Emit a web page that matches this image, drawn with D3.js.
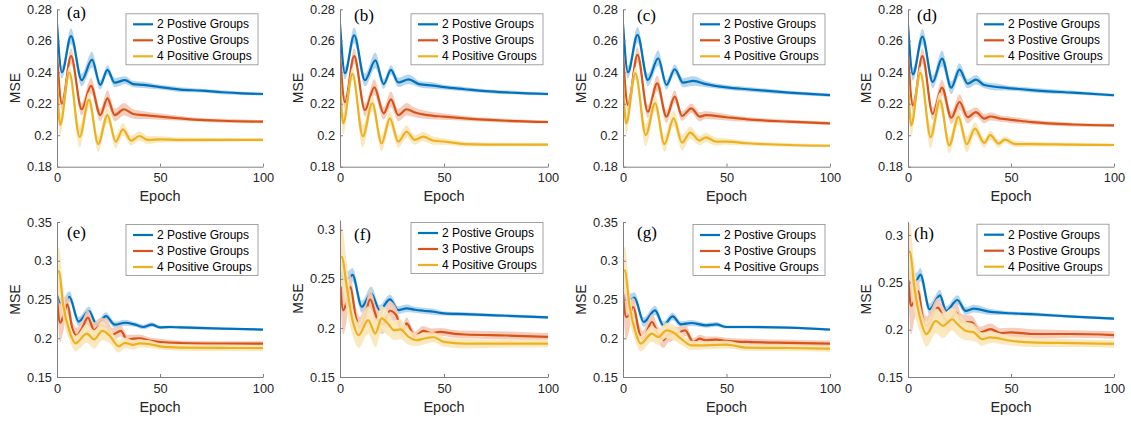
<!DOCTYPE html>
<html>
<head>
<meta charset="utf-8">
<script src="https://cdn.jsdelivr.net/npm/d3@7"></script>
<style>
body { margin: 0; background: #fff; }
svg { display: block; font-family: "Liberation Sans", Arial, sans-serif; }
</style>
</head>
<body>
<svg id="chart" width="1131" height="426"></svg>
<script>
// tick values and names
var epochTicks = [0, 50, 100];
var mseTicksTop = [0.18, 0.2, 0.22, 0.24, 0.26, 0.28];
var mseTicksWide = [0.15, 0.2, 0.25, 0.3, 0.35];
var mseTicksNarrow = [0.15, 0.2, 0.25, 0.3];
var groupNames = ["2 Postive Groups", "3 Postive Groups", "4 Positive Groups"];
var groupColors = ["#0072BD", "#D95319", "#EDB120"];
var panelNames = ["(a)", "(b)", "(c)", "(d)", "(e)", "(f)", "(g)", "(h)"];
var yDomains = [[0.18, 0.28], [0.18, 0.28], [0.18, 0.28], [0.18, 0.28],
                [0.15, 0.35], [0.15, 0.31], [0.15, 0.35], [0.15, 0.314]];

// [epoch, mean MSE, half width of shaded band]
var a2 = [[0,0.271,0.009],[2.4,0.240,0.004],[6.8,0.263,0.005],[12,0.235,0.004],[17,0.248,0.005],[21,0.232,0.003],[24.5,0.2415,0.003],[28,0.2334,0.003],[33,0.235,0.0025],[37,0.2325,0.002],[42,0.232,0.002],[50,0.2305,0.0015],[60,0.229,0.0015],[70,0.2283,0.0012],[80,0.2273,0.0012],[90,0.2266,0.001],[100,0.2262,0.001]];
var a3 = [[0,0.252,0.006],[2.4,0.220,0.004],[6.8,0.2503,0.005],[12,0.2165,0.004],[16.5,0.2313,0.005],[21,0.2128,0.004],[24.5,0.2234,0.005],[28,0.2128,0.004],[32.5,0.2165,0.004],[37,0.2135,0.003],[42,0.2128,0.0025],[50,0.2118,0.002],[60,0.2107,0.0015],[70,0.2097,0.0012],[80,0.2092,0.0012],[100,0.2086,0.001]];
var a4 = [[0,0.238,0.008],[1.5,0.2065,0.007],[6,0.2398,0.004],[11,0.199,0.007],[15.5,0.2224,0.005],[20,0.1944,0.005],[24.5,0.2128,0.005],[28.5,0.1959,0.004],[32,0.2037,0.004],[36,0.1966,0.003],[40,0.1995,0.003],[44,0.197,0.0025],[50,0.1974,0.002],[60,0.197,0.0015],[80,0.197,0.0012],[100,0.197,0.001]];

var b2 = [[0,0.271,0.009],[2.4,0.2395,0.004],[6.8,0.2635,0.005],[12,0.235,0.004],[17,0.2475,0.005],[21,0.2325,0.003],[24.5,0.2415,0.003],[28,0.2335,0.003],[33,0.2355,0.003],[38,0.2325,0.002],[45,0.2315,0.002],[50,0.2305,0.0015],[60,0.2292,0.0015],[70,0.228,0.0012],[80,0.2272,0.0012],[90,0.2266,0.001],[100,0.2262,0.001]];
var b3 = [[0,0.252,0.006],[2.4,0.221,0.004],[6.8,0.2503,0.005],[12,0.216,0.004],[16.5,0.2304,0.005],[21,0.2139,0.004],[24.5,0.2228,0.005],[28,0.2128,0.004],[32,0.2165,0.004],[36,0.2144,0.003],[42,0.2128,0.0025],[50,0.2118,0.002],[60,0.2107,0.0015],[80,0.2092,0.0012],[100,0.2084,0.001]];
var b4 = [[0,0.238,0.008],[1.5,0.2075,0.007],[6,0.239,0.004],[11,0.1993,0.007],[15.5,0.2203,0.005],[20,0.1948,0.005],[24,0.2107,0.005],[28,0.1959,0.004],[32,0.2022,0.004],[36,0.197,0.003],[40,0.1991,0.003],[45,0.1965,0.0025],[50,0.196,0.002],[60,0.1944,0.0015],[80,0.194,0.0012],[100,0.194,0.001]];

var c2 = [[0,0.271,0.009],[2.4,0.240,0.004],[7,0.2637,0.005],[12,0.2351,0.004],[17,0.2489,0.005],[21,0.2319,0.003],[25,0.2419,0.003],[29,0.2334,0.003],[34,0.2345,0.003],[40,0.2325,0.002],[50,0.2304,0.0015],[60,0.2292,0.0015],[80,0.2271,0.0012],[100,0.2255,0.001]];
var c3 = [[0,0.252,0.006],[2.4,0.2192,0.004],[7,0.251,0.005],[12,0.215,0.004],[16.5,0.233,0.005],[21,0.2118,0.004],[25,0.2245,0.004],[28.5,0.2122,0.003],[33,0.2171,0.003],[37,0.2118,0.003],[40,0.2128,0.0025],[50,0.2114,0.002],[60,0.2101,0.0015],[80,0.2086,0.0012],[100,0.2075,0.001]];
var c4 = [[0,0.238,0.008],[1.5,0.2075,0.007],[6,0.2393,0.004],[11,0.2001,0.007],[15.5,0.2203,0.005],[20,0.1944,0.005],[24.5,0.2107,0.005],[28.5,0.1953,0.005],[32.5,0.2016,0.004],[37,0.1966,0.003],[40,0.1986,0.003],[45,0.1959,0.0025],[50,0.1959,0.002],[60,0.1949,0.0015],[80,0.1938,0.0012],[100,0.1933,0.001]];

var d2 = [[0,0.270,0.009],[2.4,0.2387,0.004],[7,0.2626,0.005],[12,0.2338,0.004],[16.5,0.2487,0.005],[21,0.2302,0.004],[25,0.2417,0.004],[29,0.2328,0.003],[33,0.2353,0.003],[37,0.2319,0.002],[45,0.2304,0.002],[50,0.2298,0.0015],[60,0.2287,0.0015],[80,0.227,0.0012],[100,0.2254,0.001]];
var d3v = [[0,0.252,0.006],[2.4,0.219,0.004],[7,0.2502,0.005],[12,0.2136,0.004],[16.5,0.2302,0.005],[21,0.2111,0.004],[25,0.2211,0.005],[29,0.2115,0.004],[33,0.2147,0.003],[37,0.2105,0.003],[40,0.2119,0.0025],[45,0.2105,0.002],[50,0.2098,0.002],[60,0.2083,0.0015],[80,0.2068,0.0012],[100,0.2062,0.001]];
var d4 = [[0,0.238,0.008],[1.5,0.2062,0.007],[6,0.2396,0.004],[11,0.1988,0.007],[15.5,0.2222,0.005],[20,0.1936,0.005],[24.5,0.2117,0.005],[28.5,0.1942,0.005],[32.5,0.2042,0.004],[37,0.1951,0.003],[40,0.2,0.003],[44,0.1947,0.0025],[47,0.1972,0.002],[52,0.1944,0.002],[60,0.1944,0.0015],[80,0.194,0.0012],[100,0.1938,0.001]];

var e2 = [[0,0.255,0.006],[1.5,0.245,0.008],[3,0.244,0.008],[6,0.2535,0.007],[10.5,0.2215,0.006],[15.5,0.235,0.006],[19.3,0.2175,0.005],[23.8,0.2285,0.005],[28,0.2175,0.004],[33,0.220,0.004],[38,0.2175,0.003],[42,0.2145,0.003],[46,0.2175,0.003],[50,0.214,0.002],[55,0.2145,0.002],[60,0.214,0.002],[80,0.2125,0.0015],[100,0.2111,0.0015]];
var e3 = [[0,0.252,0.01],[1.5,0.220,0.025],[3,0.228,0.02],[5,0.2436,0.012],[7.5,0.212,0.01],[9.5,0.2035,0.01],[12,0.212,0.01],[15,0.2265,0.01],[18,0.2105,0.01],[21,0.2165,0.01],[24,0.215,0.01],[27,0.205,0.008],[31,0.2094,0.007],[34,0.1985,0.006],[37,0.1995,0.005],[40,0.2,0.005],[45,0.197,0.004],[50,0.1952,0.004],[60,0.1939,0.003],[80,0.1932,0.003],[100,0.193,0.003]];
var e4 = [[0,0.2865,0.03],[1,0.286,0.03],[3,0.243,0.02],[6,0.2095,0.012],[9,0.1935,0.01],[14.5,0.206,0.012],[18,0.1985,0.012],[22,0.2095,0.012],[25.5,0.2035,0.01],[30,0.1895,0.008],[33,0.194,0.007],[37,0.1915,0.006],[40,0.1935,0.005],[45,0.1925,0.005],[50,0.1896,0.004],[60,0.188,0.004],[80,0.1875,0.004],[100,0.1874,0.004]];

var f2 = [[0,0.2574,0.006],[2,0.25,0.008],[4,0.25,0.008],[6,0.254,0.007],[10.5,0.2216,0.006],[15,0.2353,0.007],[19,0.2182,0.005],[24,0.2291,0.005],[28,0.2182,0.004],[32,0.2199,0.004],[36,0.2185,0.003],[40,0.2175,0.003],[45,0.2165,0.003],[50,0.2148,0.002],[60,0.2141,0.002],[80,0.2124,0.0015],[100,0.2107,0.0015]];
var f3 = [[0,0.2523,0.01],[1.5,0.218,0.025],[3,0.225,0.02],[5,0.242,0.012],[7.5,0.212,0.01],[9.5,0.2011,0.01],[12,0.212,0.01],[14.5,0.2291,0.01],[17.5,0.2114,0.01],[20.5,0.2035,0.01],[24,0.2175,0.01],[27,0.213,0.008],[30,0.1965,0.007],[32,0.2046,0.006],[36,0.1915,0.005],[40,0.197,0.005],[44,0.1945,0.005],[48,0.196,0.004],[55,0.194,0.004],[60,0.1933,0.004],[80,0.1923,0.004],[100,0.1909,0.004]];
var f4 = [[0,0.2727,0.03],[1,0.272,0.03],[3,0.2455,0.025],[6,0.208,0.015],[9,0.1926,0.013],[13.5,0.208,0.014],[17,0.1943,0.014],[20,0.2097,0.013],[23,0.2045,0.012],[26,0.1977,0.01],[29,0.1985,0.01],[33,0.1909,0.008],[37,0.1875,0.006],[40,0.189,0.006],[45,0.1905,0.005],[50,0.1858,0.005],[60,0.1841,0.005],[80,0.1841,0.004],[100,0.1841,0.004]];

var g2 = [[0,0.2575,0.006],[2,0.25,0.008],[4,0.25,0.008],[5.5,0.2524,0.007],[10,0.221,0.006],[15.5,0.236,0.006],[19.5,0.2167,0.005],[24,0.2283,0.005],[28,0.218,0.004],[33,0.2197,0.004],[40,0.2167,0.003],[45,0.218,0.003],[50,0.2145,0.002],[60,0.2145,0.002],[80,0.2136,0.0015],[100,0.2111,0.0015]];
var g3 = [[0,0.2575,0.01],[1.5,0.2274,0.03],[3,0.23,0.02],[5,0.2403,0.012],[8,0.206,0.01],[9.5,0.1995,0.01],[14,0.221,0.01],[17,0.205,0.01],[19.5,0.1975,0.01],[22,0.205,0.01],[26,0.2065,0.008],[30,0.2102,0.007],[34,0.1952,0.005],[37,0.1995,0.005],[40,0.1974,0.005],[45,0.1983,0.004],[50,0.1965,0.004],[60,0.1952,0.004],[80,0.194,0.004],[100,0.193,0.004]];
var g4 = [[0,0.2876,0.03],[1,0.287,0.03],[3,0.2446,0.02],[6,0.2081,0.012],[8.5,0.193,0.01],[14,0.2059,0.01],[17,0.2016,0.01],[21,0.2102,0.01],[24,0.2081,0.01],[28,0.1995,0.008],[33,0.1909,0.006],[40,0.1909,0.005],[50,0.1918,0.005],[60,0.1878,0.004],[80,0.1874,0.004],[100,0.1866,0.004]];

var h2 = [[0,0.2616,0.006],[2,0.252,0.008],[4,0.252,0.008],[6,0.2581,0.007],[10.5,0.2215,0.006],[15.5,0.2362,0.006],[18.5,0.2198,0.005],[24,0.2313,0.005],[28,0.2198,0.004],[32,0.2222,0.004],[40,0.2187,0.003],[50,0.2173,0.002],[60,0.2163,0.002],[80,0.2138,0.0015],[100,0.2117,0.0015]];
var h3 = [[0,0.2599,0.01],[1.5,0.225,0.03],[3,0.23,0.02],[5,0.2407,0.012],[7,0.2145,0.01],[9,0.204,0.01],[14.5,0.2233,0.01],[16.5,0.2163,0.01],[19.5,0.2075,0.01],[23.5,0.218,0.01],[26,0.2085,0.008],[31,0.2076,0.007],[35,0.1971,0.006],[40,0.2006,0.006],[45,0.1964,0.005],[50,0.1971,0.005],[60,0.1954,0.005],[80,0.1954,0.004],[100,0.1943,0.004]];
var h4 = [[0,0.2826,0.03],[1,0.282,0.03],[3,0.2459,0.025],[6,0.211,0.015],[9,0.1953,0.013],[13.5,0.2093,0.013],[17,0.204,0.013],[21.5,0.211,0.012],[24,0.2058,0.012],[28,0.1988,0.01],[32,0.1971,0.009],[36,0.19,0.007],[40,0.1918,0.006],[50,0.1883,0.005],[60,0.1866,0.005],[80,0.1858,0.004],[100,0.1849,0.004]];

var panelSeries = [[a2, a3, a4], [b2, b3, b4], [c2, c3, c4], [d2, d3v, d4],
                   [e2, e3, e4], [f2, f3, f4], [g2, g3, g4], [h2, h3, h4]];
var yTickSets = [mseTicksTop, mseTicksTop, mseTicksTop, mseTicksTop,
                 mseTicksWide, mseTicksNarrow, mseTicksWide, mseTicksNarrow];

// layout (pixels)
var colLeft = [57, 340, 623, 908];
var colRight = [263, 548, 830, 1114];
var rowTop = [[9.3, 9.3, 9.3, 9.3], [222, 220, 222, 221.7]];
var rowBottom = [166.7, 377];
var labelDx = [10, 14, 14, 9, 10, 14, 14, 6];
var labelY = [18, 21, 21, 21, 238, 240, 238, 239];
var axisColor = "#808080";
var textColor = "#262626";

var svg = d3.select("#chart");

panelSeries.forEach(function(series, p) {
    var col = p % 4, row = Math.floor(p / 4);
    var x0 = colLeft[col], x1 = colRight[col];
    var y0 = rowTop[row][col], y1 = rowBottom[row];

    var xScale = d3.scaleLinear().domain([0, 100]).range([x0, x1]);
    var yScale = d3.scaleLinear().domain(yDomains[p]).range([y1, y0]);

    var panel = svg.append("g");

    panel.append("clipPath")
        .attr("id", "clip" + p)
        .append("rect")
        .attr("x", x0).attr("y", y0)
        .attr("width", x1 - x0).attr("height", y1 - y0);

    var plot = panel.append("g").attr("clip-path", "url(#clip" + p + ")");

    var band = d3.area()
        .x(function(d) { return xScale(d[0]); })
        .y0(function(d) { return yScale(d[1] - d[2]); })
        .y1(function(d) { return yScale(d[1] + d[2]); })
        .curve(d3.curveMonotoneX);

    var line = d3.line()
        .x(function(d) { return xScale(d[0]); })
        .y(function(d) { return yScale(d[1]); })
        .curve(d3.curveMonotoneX);

    // band then line per group, so later bands cover earlier lines
    series.forEach(function(s, i) {
        plot.append("path")
            .datum(s)
            .attr("d", band)
            .attr("fill", d3.interpolateRgb("#ffffff", groupColors[i])(0.32))
            .attr("fill-opacity", 0.9);
        plot.append("path")
            .datum(s)
            .attr("d", line)
            .attr("fill", "none")
            .attr("stroke", groupColors[i])
            .attr("stroke-width", 2.2)
            .attr("stroke-linejoin", "round");
    });

    // axes
    var xAxis = d3.axisBottom(xScale).tickValues(epochTicks)
        .tickSizeInner(-3).tickSizeOuter(0).tickPadding(6.5);
    var yAxis = d3.axisLeft(yScale).tickValues(yTickSets[p])
        .tickFormat(function(d) { return String(d); })
        .tickSizeInner(-3).tickSizeOuter(0).tickPadding(5);

    var gx = panel.append("g").attr("transform", "translate(0," + y1 + ")").call(xAxis);
    var gy = panel.append("g").attr("transform", "translate(" + x0 + ",0)").call(yAxis);

    [gx, gy].forEach(function(ax) {
        ax.select(".domain").attr("stroke", axisColor);
        ax.selectAll(".tick line").attr("stroke", axisColor);
        ax.selectAll(".tick text")
            .attr("fill", textColor)
            .style("font-size", "12.8px")
            .style("font-family", "'Liberation Sans', Arial, sans-serif");
    });

    panel.append("text")
        .attr("x", (x0 + x1) / 2)
        .attr("y", y1 + 34.5)
        .attr("text-anchor", "middle")
        .attr("fill", textColor)
        .style("font-size", "14.5px")
        .text("Epoch");

    panel.append("text")
        .attr("transform", "translate(" + (x0 - 37) + "," + ((y0 + y1) / 2) + ") rotate(-90)")
        .attr("text-anchor", "middle")
        .attr("fill", textColor)
        .style("font-size", "14px")
        .text("MSE");

    panel.append("text")
        .attr("x", x0 + labelDx[p])
        .attr("y", labelY[p])
        .attr("fill", "#000")
        .style("font-family", "'Liberation Serif', 'Times New Roman', serif")
        .style("font-size", "17px")
        .text(panelNames[p]);

    // legend
    var legW = 132, legH = 51;
    var legX = x1 - 5 - legW, legY = y0 + (row === 0 ? 4.5 : 2.5);
    var leg = panel.append("g").attr("transform", "translate(" + legX + "," + legY + ")");
    leg.append("rect")
        .attr("width", legW).attr("height", legH)
        .attr("fill", "#fff")
        .attr("stroke", "#8c8c8c")
        .attr("stroke-width", 0.8);
    groupNames.forEach(function(name, i) {
        var ly = 10.5 + i * 16;
        leg.append("line")
            .attr("x1", 7).attr("x2", 27)
            .attr("y1", ly).attr("y2", ly)
            .attr("stroke", groupColors[i])
            .attr("stroke-width", 2.2);
        leg.append("text")
            .attr("x", 31).attr("y", ly)
            .attr("dy", "0.35em")
            .attr("fill", "#000")
            .style("font-size", "12px")
            .text(name);
    });
});
</script>
</body>
</html>
